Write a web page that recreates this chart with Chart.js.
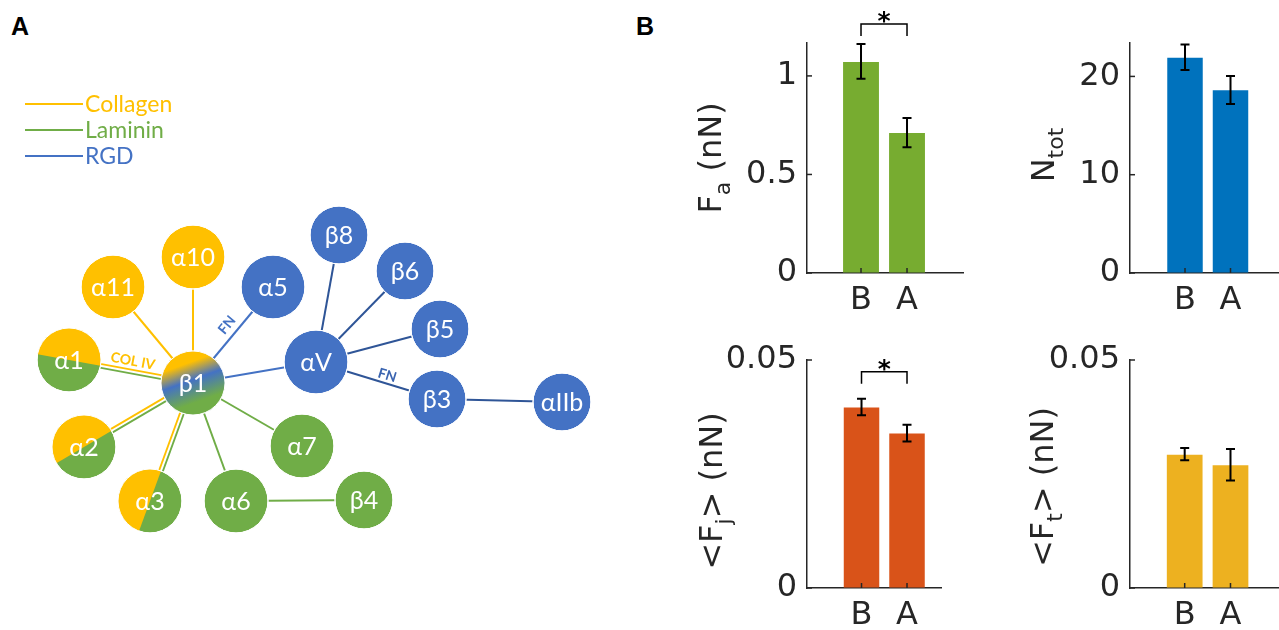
<!DOCTYPE html>
<html>
<head>
<meta charset="utf-8">
<script src="https://cdn.jsdelivr.net/npm/chart.js@4.4.0/dist/chart.umd.min.js"></script>
<style>
body { margin: 0; background: #fff; width: 1279px; height: 630px; overflow: hidden; position: relative; }
canvas { position: absolute; }
.panel { position: absolute; font: bold 25px "Liberation Sans", Arial, sans-serif; color: #000; line-height: 28px; }
</style>
</head>
<body>
<div class="panel" style="left:11px;top:12px">A</div>
<div class="panel" style="left:636px;top:12px">B</div>
<canvas id="net" width="625" height="630" style="left:0;top:0"></canvas>
<canvas id="fa" width="340" height="330" style="left:630px;top:0"></canvas>
<canvas id="ntot" width="309" height="330" style="left:970px;top:0"></canvas>
<canvas id="fj" width="340" height="300" style="left:630px;top:330px"></canvas>
<canvas id="ft" width="309" height="300" style="left:970px;top:330px"></canvas>
<script>
// panel B data
var groups = ['B', 'A'];
var faMean = [1.07, 0.71];
var faLow = [0.985, 0.638];
var faHigh = [1.162, 0.787];
var ntotMean = [21.9, 18.6];
var ntotLow = [20.65, 17.2];
var ntotHigh = [23.26, 20.04];
var fjMean = [0.0396, 0.0339];
var fjLow = [0.0379, 0.0321];
var fjHigh = [0.0415, 0.0358];
var ftMean = [0.0292, 0.0269];
var ftLow = [0.0280, 0.0236];
var ftHigh = [0.0307, 0.0305];
var faTicks = [0, 0.5, 1];
var ntotTicks = [0, 10, 20];
var fTicks = [0, 0.05];

// panel A network (layout coordinates of each integrin node)
var nodeNames = ['α11', 'α10', 'α5', 'β8', 'β6', 'β5', 'αV', 'β3', 'αIIb', 'α1', 'β1', 'α2', 'α7', 'α3', 'α6', 'β4'];
var nodeX = [113, 193, 273, 339, 405, 440, 316, 437, 562, 69, 193, 84, 302, 150, 236, 364];
var nodeY = [287, 257, 287, 235, 271, 329, 362, 399, 402, 360, 383, 447, 446, 501, 501, 500];
var nodeKind = ['Collagen', 'Collagen', 'RGD', 'RGD', 'RGD', 'RGD', 'RGD', 'RGD', 'RGD', 'split', 'mix', 'split', 'Laminin', 'split', 'Laminin', 'Laminin'];
var edgeFrom = ['α11', 'α10', 'α5', 'αV', 'α1', 'α2', 'α3', 'α6', 'α7', 'α6', 'αV', 'αV', 'αV', 'αV', 'β3'];
var edgeTo = ['β1', 'β1', 'β1', 'β1', 'β1', 'β1', 'β1', 'β1', 'β1', 'β4', 'β8', 'β6', 'β5', 'β3', 'αIIb'];
var edgeType = ['Collagen', 'Collagen', 'RGD', 'RGD', 'both', 'both', 'both', 'Laminin', 'Laminin', 'Laminin', 'RGDv', 'RGDv', 'RGDv', 'RGDv', 'RGDv'];
var legendNames = ['Collagen', 'Laminin', 'RGD'];

var YELLOW = '#FFC000', GREEN = '#70AD47', BLUE = '#4472C4', DARKBLUE = '#2F5597';
var lineColor = { Collagen: YELLOW, Laminin: GREEN, RGD: BLUE, RGDv: DARKBLUE };
var nodeFill = { Collagen: YELLOW, Laminin: GREEN, RGD: BLUE, split: GREEN, mix: BLUE };
var smallNodes = ['β8', 'β6', 'β5', 'β3', 'αIIb', 'β4'];
var edgeLabels = [
    { text: 'COL IV', edge: 4, t: 0.5, off: 10.5, color: YELLOW },
    { text: 'FN', edge: 2, t: 0.47, off: -11, color: BLUE },
    { text: 'FN', edge: 13, t: 0.57, off: 8, color: '#3A64B0' }
];

function nodeRadius(name) { return smallNodes.indexOf(name) >= 0 ? 29 : 32; }

var edgeSets = [];
edgeFrom.forEach(function (a, k) {
    var i = nodeNames.indexOf(a), j = nodeNames.indexOf(edgeTo[k]);
    var dx = nodeX[j] - nodeX[i], dy = nodeY[j] - nodeY[i], len = Math.hypot(dx, dy);
    var nx = dy / len, ny = -dx / len;
    var parts = edgeType[k] === 'both' ? [['Collagen', 1.9], ['Laminin', -1.9]] : [[edgeType[k], 0]];
    parts.forEach(function (p) {
        edgeSets.push({
            data: [{ x: nodeX[i] + nx * p[1], y: nodeY[i] + ny * p[1] }, { x: nodeX[j] + nx * p[1], y: nodeY[j] + ny * p[1] }],
            showLine: true,
            borderColor: lineColor[p[0]],
            borderWidth: p[1] ? 1.8 : 2,
            pointRadius: 0,
            order: 1
        });
    });
});

var netExtras = {
    id: 'netExtras',
    afterDatasetsDraw: function (chart) {
        var ctx = chart.ctx, xs = chart.scales.x, ys = chart.scales.y;
        var b1 = nodeNames.indexOf('β1');
        var bx = xs.getPixelForValue(nodeX[b1]), by = ys.getPixelForValue(nodeY[b1]);
        ctx.save();
        nodeNames.forEach(function (n, i) {
            var cx = xs.getPixelForValue(nodeX[i]), cy = ys.getPixelForValue(nodeY[i]), r = nodeRadius(n);
            if (nodeKind[i] === 'split') {
                var th = Math.atan2(by - cy, bx - cx);
                ctx.beginPath();
                ctx.moveTo(cx, cy);
                ctx.arc(cx, cy, r, th + Math.PI, th + 2 * Math.PI);
                ctx.closePath();
                ctx.fillStyle = YELLOW;
                ctx.fill();
            } else if (nodeKind[i] === 'mix') {
                var ph = 70 * Math.PI / 180;
                var g = ctx.createLinearGradient(cx - r * Math.cos(ph), cy - r * Math.sin(ph), cx + r * Math.cos(ph), cy + r * Math.sin(ph));
                g.addColorStop(0.18, YELLOW);
                g.addColorStop(0.45, BLUE);
                g.addColorStop(0.8, GREEN);
                ctx.beginPath();
                ctx.arc(cx, cy, r, 0, 2 * Math.PI);
                ctx.fillStyle = g;
                ctx.fill();
            }
            ctx.beginPath();
            ctx.arc(cx, cy, r, 0, 2 * Math.PI);
            ctx.strokeStyle = '#fff';
            ctx.lineWidth = 1;
            ctx.stroke();
            ctx.fillStyle = '#fff';
            ctx.font = '25px Lato, "Open Sans", sans-serif';
            ctx.textAlign = 'center';
            ctx.textBaseline = 'middle';
            ctx.fillText(n, cx, cy + 1);
        });

        // labels along edges
        edgeLabels.forEach(function (l) {
            var i = nodeNames.indexOf(edgeFrom[l.edge]), j = nodeNames.indexOf(edgeTo[l.edge]);
            var x1 = xs.getPixelForValue(nodeX[i]), y1 = ys.getPixelForValue(nodeY[i]);
            var x2 = xs.getPixelForValue(nodeX[j]), y2 = ys.getPixelForValue(nodeY[j]);
            var dx = x2 - x1, dy = y2 - y1, len = Math.hypot(dx, dy);
            var px = x1 + dx * l.t + dy / len * l.off, py = y1 + dy * l.t - dx / len * l.off;
            var ang = Math.atan2(dy, dx);
            if (ang > Math.PI / 2) ang -= Math.PI;
            if (ang < -Math.PI / 2) ang += Math.PI;
            ctx.save();
            ctx.translate(px, py);
            ctx.rotate(ang);
            ctx.fillStyle = l.color;
            ctx.font = 'bold 14px Lato, sans-serif';
            ctx.textAlign = 'center';
            ctx.textBaseline = 'middle';
            ctx.fillText(l.text, 0, 0);
            ctx.restore();
        });

        // legend
        legendNames.forEach(function (name, k) {
            var ly = 104 + k * 26;
            ctx.beginPath();
            ctx.moveTo(25, ly);
            ctx.lineTo(83, ly);
            ctx.strokeStyle = lineColor[name];
            ctx.lineWidth = 2;
            ctx.stroke();
            ctx.fillStyle = lineColor[name];
            ctx.font = '23px Lato, sans-serif';
            ctx.textAlign = 'left';
            ctx.textBaseline = 'middle';
            ctx.fillText(name, 85, ly + 1);
        });
        ctx.restore();
    }
};

new Chart(document.getElementById('net'), {
    type: 'scatter',
    data: {
        datasets: [{
            data: nodeNames.map(function (n, i) { return { x: nodeX[i], y: nodeY[i] }; }),
            pointRadius: nodeNames.map(nodeRadius),
            pointBackgroundColor: nodeKind.map(function (k) { return nodeFill[k]; }),
            pointBorderColor: '#fff',
            pointBorderWidth: 1,
            order: 0
        }].concat(edgeSets)
    },
    options: {
        responsive: false,
        animation: false,
        events: [],
        layout: { autoPadding: false, padding: 0 },
        plugins: { legend: { display: false }, tooltip: { enabled: false } },
        scales: {
            x: { type: 'linear', min: 0, max: 625, display: false },
            y: { type: 'linear', min: 0, max: 630, reverse: true, display: false }
        }
    },
    plugins: [netExtras]
});

// bar panels
var FONT = '"DejaVu Sans", sans-serif';
var AXIS = '#262626';

var barExtras = {
    id: 'extras',
    afterDraw: function (chart, args, o) {
        var ctx = chart.ctx, ca = chart.chartArea, x = chart.scales.x, y = chart.scales.y;
        ctx.save();
        ctx.strokeStyle = AXIS;
        ctx.lineWidth = 1.5;
        o.ticks.forEach(function (v) {
            var py = y.getPixelForValue(v);
            ctx.beginPath(); ctx.moveTo(ca.left, py); ctx.lineTo(ca.left + 5, py); ctx.stroke();
        });
        groups.forEach(function (g, i) {
            var px = x.getPixelForValue(i + 1);
            ctx.beginPath(); ctx.moveTo(px, ca.bottom); ctx.lineTo(px, ca.bottom - 5); ctx.stroke();
        });
        // error bars
        ctx.strokeStyle = '#000';
        ctx.lineWidth = 2;
        o.low.forEach(function (lo, i) {
            var px = x.getPixelForValue(i + 1), y1 = y.getPixelForValue(lo), y2 = y.getPixelForValue(o.high[i]);
            ctx.beginPath();
            ctx.moveTo(px, y1); ctx.lineTo(px, y2);
            ctx.moveTo(px - 4.5, y1); ctx.lineTo(px + 4.5, y1);
            ctx.moveTo(px - 4.5, y2); ctx.lineTo(px + 4.5, y2);
            ctx.stroke();
        });
        // significance bracket
        if (o.sig) {
            var xa = x.getPixelForValue(1), xb = x.getPixelForValue(2);
            var yt = y.getPixelForValue(o.sig[0]), yl = y.getPixelForValue(o.sig[1]);
            ctx.lineWidth = 1.5;
            ctx.beginPath();
            ctx.moveTo(xa, yl); ctx.lineTo(xa, yt); ctx.lineTo(xb, yt); ctx.lineTo(xb, yl);
            ctx.stroke();
            ctx.fillStyle = '#000';
            ctx.font = 'bold 25px ' + FONT;
            ctx.textAlign = 'center';
            ctx.textBaseline = 'alphabetic';
            ctx.fillText('*', (xa + xb) / 2, yt + 5);
        }
        // y title with subscripts
        ctx.translate(o.titleX, o.titleY);
        ctx.rotate(-Math.PI / 2);
        ctx.fillStyle = AXIS;
        ctx.textAlign = 'left';
        ctx.textBaseline = 'alphabetic';
        var fonts = ['32px ' + FONT, '22px ' + FONT];
        var total = 0;
        o.title.forEach(function (p) { ctx.font = fonts[p[1]]; total += ctx.measureText(p[0]).width; });
        var cx = -total / 2;
        o.title.forEach(function (p) {
            ctx.font = fonts[p[1]];
            ctx.fillText(p[0], cx, p[1] ? 9 : 0);
            cx += ctx.measureText(p[0]).width;
        });
        ctx.restore();
    }
};

function barChart(id, o) {
    return new Chart(document.getElementById(id), {
        type: 'bar',
        data: {
            datasets: [{
                data: groups.map(function (g, i) { return { x: i + 1, y: o.mean[i] }; }),
                backgroundColor: o.color,
                categoryPercentage: 0.78,
                barPercentage: 1
            }]
        },
        options: {
            responsive: false,
            animation: false,
            events: [],
            layout: { padding: o.pad },
            plugins: {
                legend: { display: false },
                tooltip: { enabled: false },
                extras: o
            },
            scales: {
                x: {
                    type: 'linear', min: o.xMin, max: o.xMax, offset: false,
                    grid: { display: true, drawOnChartArea: false, drawTicks: false, offset: false },
                    border: { color: AXIS, width: 1.5 },
                    afterBuildTicks: function (s) { s.ticks = groups.map(function (g, i) { return { value: i + 1 }; }); },
                    afterFit: function (s) { s.height = o.xh; },
                    ticks: {
                        color: AXIS, font: { family: FONT, size: 32 }, padding: 8,
                        maxRotation: 0, autoSkip: false,
                        callback: function (v) { return groups[v - 1]; }
                    }
                },
                y: {
                    type: 'linear', min: 0, max: o.yMax,
                    grid: { display: true, drawOnChartArea: false, drawTicks: false },
                    border: { color: AXIS, width: 1.5 },
                    afterBuildTicks: function (s) { s.ticks = o.ticks.map(function (v) { return { value: v }; }); },
                    afterFit: function (s) { s.width = o.yw; },
                    ticks: {
                        color: AXIS, font: { family: FONT, size: 32 }, padding: 10,
                        callback: function (v) { return String(v); }
                    }
                }
            }
        },
        plugins: [barExtras]
    });
}

barChart('fa', {
    mean: faMean, low: faLow, high: faHigh, ticks: faTicks, color: '#77AC30',
    pad: { top: 43, right: 7, left: 0, bottom: 0 }, yw: 177, xh: 57,
    xMin: -0.174, xMax: 3.217, yMax: 1.167, sig: [1.263, 1.202],
    title: [['F', 0], ['a', 1], [' (nN)', 0]], titleX: 91, titleY: 158
});
barChart('ntot', {
    mean: ntotMean, low: ntotLow, high: ntotHigh, ticks: ntotTicks, color: '#0072BD',
    pad: { top: 43, right: 0, left: 0, bottom: 0 }, yw: 160, xh: 57,
    xMin: -0.209, xMax: 3.066, yMax: 23.4, sig: null,
    title: [['N', 0], ['tot', 1]], titleX: 84, titleY: 155
});
barChart('fj', {
    mean: fjMean, low: fjLow, high: fjHigh, ticks: fTicks, color: '#D95319',
    pad: { top: 30, right: 29, left: 0, bottom: 0 }, yw: 177, xh: 42,
    xMin: -0.198, xMax: 2.747, yMax: 0.05, sig: [0.0474, 0.0448],
    title: [['<F', 0], ['j', 1], ['> (nN)', 0]], titleX: 92, titleY: 161
});
barChart('ft', {
    mean: ftMean, low: ftLow, high: ftHigh, ticks: fTicks, color: '#EDB120',
    pad: { top: 30, right: 0, left: 0, bottom: 0 }, yw: 160, xh: 42,
    xMin: -0.194, xMax: 3.059, yMax: 0.05, sig: null,
    title: [['<F', 0], ['t', 1], ['> (nN)', 0]], titleX: 83, titleY: 157
});
</script>
</body>
</html>
